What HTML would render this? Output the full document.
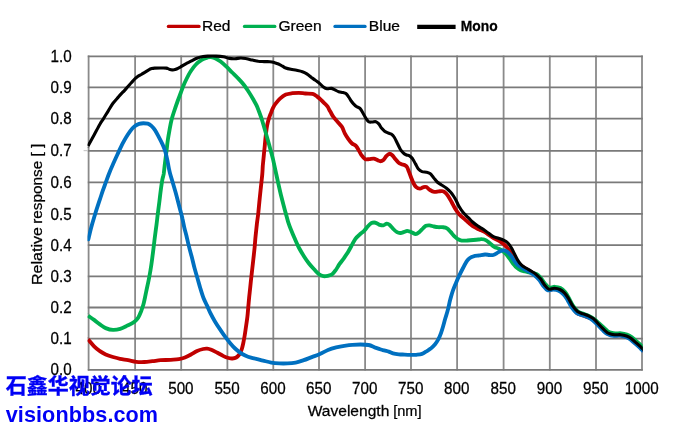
<!DOCTYPE html>
<html><head><meta charset="utf-8"><title>Relative response</title>
<style>
html,body{margin:0;padding:0;background:#fff;}
body{width:690px;height:428px;overflow:hidden;position:relative;font-family:"Liberation Sans","Noto Sans CJK SC",sans-serif;}
#root{position:absolute;left:0;top:0;width:690px;height:428px;overflow:hidden;background:#fff;will-change:transform;filter:opacity(0.999);}
svg{position:absolute;left:0;top:0;display:block}
svg text{font-family:"Liberation Sans",sans-serif;fill:#000;stroke:#000;stroke-width:0.25px}
.wm{position:absolute;left:5.7px;color:#0000f5;font-weight:bold;white-space:nowrap;line-height:1;}
#wm1{top:374.1px;font-size:21px;font-family:"Noto Sans CJK SC","WenQuanYi Zen Hei",sans-serif;font-weight:700;-webkit-text-stroke:0.35px #0000f5}
#wm2{top:404.3px;font-size:21.6px;font-family:"Liberation Sans",sans-serif;transform:scaleX(1.0);transform-origin:0 0;letter-spacing:0.1px}
</style></head><body><div id="root">
<svg width="690" height="428" viewBox="0 0 690 428">
<rect width="690" height="428" fill="#fff"/>
<path d="M88.60 55.60V370.60M135.10 55.60V370.60M181.20 55.60V370.60M227.40 55.60V370.60M273.30 55.60V370.60M319.00 55.60V370.60M365.10 55.60V370.60M411.00 55.60V370.60M457.10 55.60V370.60M503.60 55.60V370.60M549.80 55.60V370.60M596.00 55.60V370.60M642.00 55.60V370.60" fill="none" stroke="#8a8a8a" stroke-width="1.8"/>
<path d="M87.80 56.40H642.80M87.80 87.30H642.80M87.80 118.60H642.80M87.80 150.80H642.80M87.80 182.30H642.80M87.80 213.90H642.80M87.80 245.20H642.80M87.80 276.40H642.80M87.80 307.50H642.80M87.80 338.70H642.80M87.80 369.80H642.80" fill="none" stroke="#7a7a7a" stroke-width="1.8"/>
<path d="M83.6 150.6H87.6" stroke="#c8c8c8" stroke-width="1.2" fill="none"/>
<g><text transform="translate(88.30 394.00) scale(0.975 1)" font-size="15.60" text-anchor="middle">400</text><text transform="translate(134.80 394.00) scale(0.975 1)" font-size="15.60" text-anchor="middle">450</text><text transform="translate(180.90 394.00) scale(0.975 1)" font-size="15.60" text-anchor="middle">500</text><text transform="translate(227.10 394.00) scale(0.975 1)" font-size="15.60" text-anchor="middle">550</text><text transform="translate(273.00 394.00) scale(0.975 1)" font-size="15.60" text-anchor="middle">600</text><text transform="translate(318.70 394.00) scale(0.975 1)" font-size="15.60" text-anchor="middle">650</text><text transform="translate(364.80 394.00) scale(0.975 1)" font-size="15.60" text-anchor="middle">700</text><text transform="translate(410.70 394.00) scale(0.975 1)" font-size="15.60" text-anchor="middle">750</text><text transform="translate(456.80 394.00) scale(0.975 1)" font-size="15.60" text-anchor="middle">800</text><text transform="translate(503.30 394.00) scale(0.975 1)" font-size="15.60" text-anchor="middle">850</text><text transform="translate(549.50 394.00) scale(0.975 1)" font-size="15.60" text-anchor="middle">900</text><text transform="translate(595.70 394.00) scale(0.975 1)" font-size="15.60" text-anchor="middle">950</text><text transform="translate(641.70 394.00) scale(0.975 1)" font-size="15.60" text-anchor="middle">1000</text><text transform="translate(71.60 62.00) scale(0.975 1)" font-size="15.60" text-anchor="end">1.0</text><text transform="translate(71.60 92.90) scale(0.975 1)" font-size="15.60" text-anchor="end">0.9</text><text transform="translate(71.60 124.20) scale(0.975 1)" font-size="15.60" text-anchor="end">0.8</text><text transform="translate(71.60 156.40) scale(0.975 1)" font-size="15.60" text-anchor="end">0.7</text><text transform="translate(71.60 187.90) scale(0.975 1)" font-size="15.60" text-anchor="end">0.6</text><text transform="translate(71.60 219.50) scale(0.975 1)" font-size="15.60" text-anchor="end">0.5</text><text transform="translate(71.60 250.80) scale(0.975 1)" font-size="15.60" text-anchor="end">0.4</text><text transform="translate(71.60 282.00) scale(0.975 1)" font-size="15.60" text-anchor="end">0.3</text><text transform="translate(71.60 313.10) scale(0.975 1)" font-size="15.60" text-anchor="end">0.2</text><text transform="translate(71.60 344.30) scale(0.975 1)" font-size="15.60" text-anchor="end">0.1</text><text transform="translate(71.60 375.40) scale(0.975 1)" font-size="15.60" text-anchor="end">0.0</text></g>
<g><text transform="translate(307.70 415.60) scale(1.032 1)" font-size="15.10" text-anchor="start">Wavelength</text><text transform="translate(393.20 415.60) scale(0.967 1)" font-size="15.10" text-anchor="start">[nm]</text><text transform="translate(42.30 285.00) rotate(-90) scale(1.064 1)" font-size="15.10" text-anchor="start">Relative</text><text transform="translate(42.30 223.85) rotate(-90) scale(1.018 1)" font-size="15.10" text-anchor="start">response [ ]</text></g>
<clipPath id="cp"><rect x="87.5" y="40" width="555.3" height="340"/></clipPath>
<g fill="none" stroke-linejoin="round" stroke-linecap="butt" clip-path="url(#cp)">
<path d="M88.0 339.4C88.1 339.5 87.6 338.8 88.6 340.0C89.6 341.2 92.2 344.4 94.1 346.3C96.0 348.2 98.0 349.8 99.9 351.1C101.8 352.5 103.5 353.4 105.7 354.4C107.9 355.4 110.6 356.3 113.0 357.0C115.4 357.7 117.5 358.3 120.0 358.8C122.5 359.3 125.4 359.7 128.1 360.2C130.8 360.7 133.5 361.5 136.2 361.8C138.9 362.1 141.6 362.1 144.3 362.0C147.0 361.9 149.8 361.5 152.5 361.2C155.2 360.9 157.6 360.4 160.6 360.2C163.6 360.0 167.7 360.0 170.7 359.8C173.7 359.6 176.4 359.6 178.8 359.2C181.2 358.8 182.9 358.3 184.9 357.5C186.9 356.7 189.0 355.6 191.0 354.5C193.0 353.4 195.1 351.9 197.1 351.0C199.1 350.1 201.5 349.4 203.2 349.0C204.9 348.6 205.8 348.6 207.2 348.7C208.5 348.8 209.6 349.1 211.3 349.8C213.0 350.5 215.4 351.8 217.4 352.8C219.4 353.9 221.7 355.2 223.5 356.1C225.3 357.0 227.0 357.6 228.5 358.0C230.0 358.4 231.1 358.6 232.4 358.5C233.7 358.4 235.0 358.2 236.2 357.5C237.4 356.8 238.5 355.6 239.4 354.3C240.3 353.1 240.9 351.8 241.5 350.0C242.1 348.2 242.7 345.8 243.2 343.5C243.7 341.2 244.1 338.9 244.6 336.0C245.1 333.1 245.6 329.2 246.1 326.0C246.6 322.8 247.0 320.0 247.4 316.8C247.8 313.6 248.0 309.8 248.3 306.7C248.6 303.6 248.8 301.3 249.1 298.0C249.4 294.7 249.9 290.8 250.3 286.7C250.7 282.6 251.2 278.0 251.7 273.7C252.2 269.4 252.7 265.0 253.2 260.6C253.7 256.2 254.2 251.7 254.6 247.6C255.0 243.5 255.2 239.8 255.6 236.0C256.0 232.2 256.4 228.5 256.8 224.7C257.2 220.9 257.9 217.0 258.3 213.1C258.7 209.2 259.0 205.4 259.4 201.5C259.8 197.6 260.2 193.5 260.6 189.9C261.0 186.3 261.4 182.5 261.7 179.8C262.0 177.2 262.1 176.4 262.3 174.0C262.5 171.6 262.6 168.7 262.8 165.6C263.1 162.5 263.5 158.9 263.8 155.5C264.1 152.1 264.5 148.7 264.8 145.3C265.1 141.9 265.4 138.6 265.8 135.2C266.2 131.8 266.6 127.9 267.2 125.0C267.8 122.1 268.4 119.9 269.1 117.8C269.8 115.7 270.6 114.0 271.2 112.3C271.8 110.6 272.2 109.3 273.0 107.8C273.8 106.3 274.6 104.9 275.8 103.4C277.0 101.9 278.3 100.1 280.0 98.6C281.7 97.1 283.8 95.5 285.8 94.6C287.9 93.7 290.1 93.5 292.3 93.2C294.5 92.9 296.6 92.8 298.8 92.8C301.0 92.8 303.0 93.3 305.3 93.5C307.6 93.7 310.7 93.4 312.6 93.9C314.5 94.4 315.5 95.4 316.9 96.4C318.3 97.4 319.8 98.7 321.0 99.8C322.2 100.9 322.9 101.8 324.0 102.9C325.1 104.0 326.3 104.8 327.4 106.3C328.4 107.8 329.3 109.9 330.3 111.6C331.3 113.3 332.0 115.0 333.2 116.7C334.4 118.4 336.1 120.0 337.5 121.7C338.9 123.4 340.7 124.9 341.9 126.8C343.1 128.7 343.7 131.2 344.8 133.3C345.9 135.4 347.2 137.4 348.4 139.1C349.6 140.8 350.8 142.4 352.0 143.5C353.2 144.6 354.6 144.6 355.7 145.7C356.8 146.8 357.7 148.4 358.6 150.0C359.6 151.6 360.3 153.6 361.4 155.1C362.5 156.6 363.8 158.4 365.1 159.1C366.4 159.8 367.9 159.2 369.4 159.1C370.8 159.0 372.5 158.5 373.8 158.7C375.1 158.9 376.3 159.7 377.4 160.1C378.5 160.5 379.3 161.2 380.3 161.2C381.3 161.2 382.4 160.8 383.4 160.0C384.4 159.2 385.3 157.2 386.3 156.2C387.3 155.2 388.2 154.0 389.2 153.8C390.2 153.7 391.3 154.4 392.3 155.3C393.3 156.2 394.3 157.8 395.3 159.0C396.3 160.2 397.5 161.7 398.5 162.6C399.5 163.5 400.5 163.8 401.5 164.2C402.5 164.6 403.6 164.5 404.5 165.0C405.4 165.5 406.2 165.8 407.0 167.0C407.8 168.2 408.3 170.1 409.0 171.9C409.7 173.7 410.5 175.9 411.2 177.7C411.9 179.5 412.5 181.2 413.3 182.8C414.1 184.4 415.1 186.1 416.2 187.1C417.3 188.1 418.7 188.6 419.9 188.6C421.1 188.6 422.4 187.3 423.5 187.1C424.6 186.8 425.3 186.6 426.4 187.1C427.5 187.6 428.7 189.2 430.0 190.0C431.3 190.8 432.9 191.7 434.3 191.9C435.8 192.1 437.4 191.5 438.7 191.4C440.0 191.3 441.3 191.0 442.3 191.2C443.3 191.3 443.9 191.5 444.8 192.3C445.8 193.1 446.9 194.3 448.0 195.9C449.1 197.5 450.4 199.9 451.6 202.0C452.8 204.1 453.9 206.6 455.2 208.7C456.5 210.8 458.0 213.0 459.6 214.7C461.2 216.4 463.0 217.7 464.6 219.1C466.2 220.5 467.4 221.7 469.0 223.0C470.6 224.3 472.4 225.9 474.1 227.0C475.8 228.1 477.5 228.6 479.1 229.4C480.8 230.2 482.4 230.7 484.0 231.6C485.6 232.5 487.4 233.9 489.0 235.0C490.6 236.1 492.2 237.4 493.9 238.3C495.6 239.2 497.4 239.8 499.0 240.7C500.6 241.6 502.0 242.7 503.3 243.8C504.6 244.9 505.9 246.3 507.0 247.5C508.1 248.7 508.8 249.6 509.9 251.1C511.0 252.6 512.3 254.7 513.5 256.5C514.7 258.3 515.9 260.4 517.2 262.0C518.5 263.6 519.8 264.6 521.3 265.8C522.8 267.0 524.4 267.9 526.0 268.9C527.6 269.9 529.1 270.6 530.7 271.6C532.3 272.6 534.2 273.6 535.7 274.9C537.2 276.2 538.6 277.5 540.0 279.2C541.4 280.9 542.5 283.2 543.9 285.0C545.3 286.8 546.8 289.1 548.5 289.7C550.2 290.4 552.2 288.8 554.1 288.9C556.0 289.0 557.9 289.3 559.6 290.1C561.3 290.9 562.9 292.2 564.4 293.7C565.9 295.2 567.1 297.2 568.4 299.3C569.7 301.4 571.0 304.2 572.4 306.5C573.8 308.8 575.0 311.4 576.6 312.8C578.2 314.2 580.4 314.5 582.2 315.2C584.1 315.9 585.8 316.4 587.7 317.2C589.6 318.0 592.1 318.6 593.8 319.8C595.6 321.0 596.7 323.0 598.2 324.6C599.7 326.2 601.2 327.9 602.7 329.3C604.2 330.8 605.7 332.4 607.1 333.3C608.5 334.2 609.9 334.6 611.2 334.9C612.5 335.3 613.6 335.3 615.1 335.4C616.6 335.5 618.6 335.1 620.5 335.3C622.4 335.5 624.5 336.0 626.2 336.6C627.9 337.2 629.4 337.9 630.9 339.0C632.4 340.1 634.0 341.8 635.4 343.0C636.8 344.2 638.3 345.5 639.4 346.5C640.5 347.5 641.2 348.3 641.9 349.1C642.7 349.9 643.6 350.8 643.9 351.2" stroke="#c00000" stroke-width="3.85"/>
<path d="M88.0 315.7C88.1 315.8 87.6 315.4 88.6 316.1C89.6 316.8 92.2 318.5 94.1 319.9C96.0 321.3 98.0 323.0 99.9 324.4C101.8 325.8 103.5 327.2 105.7 328.1C107.9 329.0 110.6 329.8 113.0 329.9C115.4 330.0 117.8 329.6 120.2 328.9C122.6 328.2 125.2 326.7 127.5 325.6C129.8 324.5 132.2 323.5 134.0 322.1C135.8 320.8 137.1 319.4 138.3 317.5C139.5 315.6 140.3 313.2 141.2 311.0C142.0 308.8 142.8 306.7 143.4 304.5C144.0 302.3 144.4 300.2 144.9 298.0C145.4 295.8 145.7 294.0 146.3 291.1C146.9 288.2 147.8 284.3 148.5 280.9C149.2 277.5 149.8 274.4 150.4 270.8C151.0 267.2 151.6 263.1 152.1 259.2C152.6 255.3 153.1 251.5 153.6 247.6C154.1 243.7 154.5 239.8 155.0 236.0C155.5 232.2 156.0 228.5 156.5 224.7C157.0 220.9 157.4 217.0 157.9 213.1C158.4 209.2 158.9 205.4 159.4 201.5C159.9 197.6 160.3 193.5 160.8 189.9C161.3 186.3 161.8 182.5 162.3 179.8C162.8 177.2 163.2 176.8 163.7 174.0C164.1 171.2 164.5 166.5 165.0 162.7C165.5 158.9 166.0 155.0 166.5 151.1C167.0 147.2 167.3 143.4 167.9 139.5C168.5 135.6 169.3 131.3 169.9 127.9C170.5 124.5 171.0 121.9 171.7 119.2C172.4 116.5 172.9 115.0 173.9 112.0C174.9 109.0 176.4 104.6 177.5 101.5C178.6 98.4 179.5 96.2 180.5 93.5C181.5 90.8 182.5 87.9 183.5 85.5C184.5 83.1 185.3 81.4 186.5 79.0C187.7 76.6 189.3 73.4 190.9 71.0C192.5 68.6 194.1 66.3 195.9 64.5C197.7 62.6 199.8 61.1 201.7 59.9C203.6 58.7 205.9 58.0 207.5 57.5C209.1 57.0 209.9 57.1 211.2 57.2C212.5 57.4 213.9 57.7 215.5 58.4C217.1 59.1 218.8 60.2 220.6 61.6C222.4 63.0 224.5 64.9 226.4 66.7C228.3 68.5 230.3 70.6 232.2 72.5C234.1 74.4 236.1 76.2 238.0 78.3C239.9 80.3 242.0 82.5 243.8 84.8C245.6 87.1 247.2 89.6 248.8 92.0C250.4 94.4 251.9 97.0 253.2 99.3C254.5 101.6 255.8 103.7 256.8 105.8C257.8 107.9 258.3 109.6 259.2 112.0C260.1 114.4 261.1 117.0 262.1 120.2C263.1 123.5 264.2 127.5 265.4 131.5C266.5 135.5 267.8 139.8 269.0 144.3C270.2 148.8 271.7 153.7 272.8 158.4C273.9 163.1 275.0 168.4 275.9 172.5C276.8 176.6 277.4 179.3 278.1 182.7C278.9 186.1 279.6 189.4 280.4 192.8C281.2 196.2 282.1 199.6 283.0 203.0C283.9 206.4 284.8 210.0 285.7 213.1C286.6 216.2 287.2 219.1 288.1 221.8C289.0 224.5 289.8 226.8 290.9 229.5C292.0 232.2 293.2 235.1 294.5 238.1C295.8 241.1 297.2 244.5 298.8 247.5C300.4 250.5 302.2 253.5 303.9 256.2C305.6 258.9 307.3 261.3 309.0 263.5C310.7 265.7 312.4 267.5 314.1 269.3C315.8 271.1 317.5 273.2 319.1 274.3C320.7 275.4 322.1 275.9 323.5 276.2C324.9 276.4 326.4 276.1 327.8 275.8C329.2 275.5 330.9 275.3 332.2 274.3C333.5 273.3 334.6 271.7 335.8 270.0C337.0 268.3 338.1 266.1 339.4 264.2C340.7 262.3 342.4 260.4 343.8 258.4C345.2 256.3 346.8 254.1 348.1 251.9C349.4 249.7 350.5 247.6 351.7 245.4C352.9 243.2 354.1 240.6 355.4 238.8C356.7 237.0 358.2 235.8 359.7 234.5C361.1 233.2 362.8 232.2 364.1 230.9C365.4 229.6 366.5 227.8 367.7 226.5C368.9 225.2 370.2 223.9 371.3 223.2C372.4 222.5 373.2 222.5 374.2 222.5C375.2 222.5 376.2 223.0 377.1 223.4C378.0 223.8 378.5 224.5 379.5 224.8C380.5 225.1 382.0 225.6 383.2 225.4C384.4 225.2 385.7 223.7 386.8 223.6C387.9 223.5 388.6 224.0 389.7 224.9C390.8 225.8 392.1 227.8 393.3 229.0C394.5 230.2 395.8 231.5 397.0 232.2C398.2 232.9 399.4 233.1 400.6 233.0C401.8 232.9 403.1 232.2 404.2 231.9C405.3 231.6 406.0 230.9 407.1 230.9C408.2 230.9 409.2 231.4 410.7 231.9C412.1 232.4 414.4 234.1 415.8 234.1C417.2 234.1 418.2 232.9 419.4 231.9C420.6 230.9 421.9 229.3 423.0 228.3C424.1 227.3 424.8 226.3 425.9 225.8C427.0 225.3 428.3 225.3 429.6 225.4C430.9 225.5 432.4 226.2 433.9 226.5C435.3 226.8 436.9 227.1 438.3 227.2C439.8 227.3 441.2 227.0 442.6 227.2C444.1 227.4 445.7 227.5 447.0 228.3C448.3 229.1 449.4 230.6 450.6 231.9C451.8 233.2 453.0 235.0 454.2 236.2C455.4 237.4 456.6 238.4 457.8 239.1C459.1 239.8 460.1 240.4 461.7 240.6C463.3 240.8 465.6 240.6 467.5 240.5C469.4 240.4 471.5 240.2 473.3 240.0C475.1 239.8 476.9 239.6 478.4 239.5C479.8 239.4 480.7 239.0 482.0 239.2C483.3 239.3 484.9 239.7 486.2 240.4C487.5 241.1 488.6 242.2 489.9 243.3C491.2 244.4 492.7 245.9 494.2 246.8C495.7 247.7 497.4 248.0 498.9 248.7C500.3 249.4 501.7 250.2 502.9 251.1C504.1 252.0 505.0 252.9 506.2 254.2C507.4 255.5 508.6 257.3 509.8 258.9C511.0 260.5 512.3 262.6 513.4 264.0C514.5 265.4 515.4 266.6 516.6 267.6C517.8 268.6 519.2 269.6 520.6 270.2C522.0 270.8 523.6 271.0 525.0 271.4C526.4 271.8 527.1 271.9 529.0 272.3C530.9 272.7 534.5 273.1 536.4 274.0C538.3 274.9 539.3 276.3 540.7 277.8C542.1 279.3 543.2 281.5 544.6 283.1C546.0 284.8 547.5 287.0 549.2 287.6C550.9 288.2 552.9 286.7 554.8 286.8C556.6 286.9 558.6 287.1 560.3 288.0C562.0 288.9 563.6 290.4 565.1 292.1C566.6 293.8 567.8 296.2 569.1 298.5C570.4 300.8 571.6 303.7 573.1 305.9C574.6 308.1 576.2 310.2 577.9 311.5C579.6 312.8 581.6 313.2 583.5 313.9C585.4 314.6 587.2 315.0 589.0 315.9C590.8 316.8 592.9 318.0 594.5 319.2C596.1 320.4 597.4 321.9 598.9 323.2C600.4 324.6 601.9 326.0 603.4 327.3C604.9 328.6 606.4 330.4 607.8 331.3C609.2 332.2 610.6 332.6 611.9 332.9C613.2 333.3 614.2 333.3 615.8 333.4C617.3 333.5 619.3 333.1 621.2 333.3C623.0 333.5 625.2 334.0 626.9 334.6C628.6 335.2 630.1 335.9 631.6 337.0C633.1 338.1 634.7 339.8 636.1 341.0C637.5 342.2 639.0 343.5 640.1 344.5C641.2 345.5 641.9 346.3 642.6 347.1C643.4 347.9 644.3 348.8 644.6 349.2" stroke="#00b050" stroke-width="3.85"/>
<path d="M88.3 239.3C88.4 239.1 88.1 240.1 88.6 238.2C89.1 236.3 90.3 231.0 91.2 227.6C92.1 224.2 93.1 220.8 94.1 217.5C95.1 214.2 96.0 211.1 97.0 208.1C98.0 205.1 98.9 202.3 99.9 199.4C100.9 196.5 101.8 193.5 102.8 190.7C103.8 187.9 104.7 185.4 105.7 182.7C106.7 180.0 107.4 177.8 108.6 174.7C109.8 171.6 111.5 167.5 113.0 164.2C114.5 160.9 115.8 158.0 117.3 154.8C118.8 151.7 120.2 148.2 121.7 145.3C123.2 142.4 124.5 139.8 126.0 137.4C127.5 135.0 129.0 132.7 130.4 130.8C131.8 128.9 133.2 127.4 134.7 126.2C136.1 125.0 137.6 124.4 139.1 123.9C140.6 123.4 141.9 123.2 143.4 123.2C144.9 123.2 146.5 123.2 147.8 123.6C149.1 124.0 150.2 124.7 151.4 125.8C152.6 126.9 153.8 128.3 155.0 130.1C156.2 131.9 157.4 134.3 158.6 136.6C159.8 138.9 161.2 141.5 162.3 143.9C163.4 146.3 164.4 148.4 165.2 151.1C166.0 153.8 166.7 157.0 167.3 159.8C167.9 162.6 168.3 165.4 168.8 167.8C169.3 170.2 169.5 171.5 170.2 174.0C170.9 176.5 171.9 179.7 172.8 182.7C173.7 185.7 174.6 188.8 175.5 192.1C176.4 195.4 177.4 199.2 178.2 202.3C179.0 205.5 179.8 208.3 180.5 211.0C181.2 213.7 181.8 215.7 182.4 218.5C183.1 221.3 183.7 225.1 184.4 228.0C185.1 230.9 185.8 233.1 186.5 236.0C187.2 238.9 187.8 242.0 188.7 245.4C189.5 248.8 190.6 252.6 191.6 256.3C192.6 260.1 193.5 264.3 194.5 267.9C195.5 271.5 196.4 274.6 197.4 278.0C198.4 281.4 199.3 284.9 200.3 288.2C201.3 291.5 202.4 295.2 203.5 298.0C204.6 300.8 205.7 302.7 206.8 305.2C208.0 307.7 209.1 310.5 210.4 313.2C211.7 315.9 213.2 318.5 214.8 321.2C216.4 323.9 218.2 326.7 219.9 329.2C221.6 331.7 223.2 334.1 224.9 336.4C226.6 338.7 228.3 340.9 230.0 342.9C231.7 344.9 233.4 346.9 235.1 348.5C236.8 350.1 238.4 351.4 240.1 352.6C241.8 353.8 243.4 354.6 245.2 355.5C247.0 356.4 248.8 357.1 251.0 357.7C253.2 358.3 256.3 358.9 258.3 359.4C260.3 359.9 261.0 360.1 263.1 360.6C265.2 361.1 268.5 362.1 271.2 362.6C273.9 363.1 276.6 363.3 279.3 363.4C282.0 363.5 284.8 363.5 287.5 363.4C290.2 363.3 292.9 363.1 295.6 362.6C298.3 362.1 301.0 361.1 303.7 360.2C306.4 359.3 309.1 358.1 311.8 357.1C314.5 356.1 317.2 355.3 319.9 354.1C322.6 352.9 325.3 351.1 328.0 350.0C330.7 348.9 333.5 348.1 336.2 347.4C338.9 346.7 341.6 346.2 344.3 345.8C347.0 345.4 349.7 345.0 352.4 344.8C355.1 344.6 357.8 344.5 360.5 344.5C363.2 344.5 366.2 344.5 368.6 345.0C371.0 345.5 372.7 346.6 374.7 347.4C376.7 348.1 379.2 349.0 380.8 349.5C382.4 350.0 383.0 350.0 384.3 350.4C385.6 350.8 387.2 351.1 388.7 351.6C390.1 352.1 391.3 352.9 393.0 353.3C394.7 353.8 396.9 354.1 398.8 354.3C400.7 354.5 402.7 354.5 404.6 354.6C406.5 354.7 408.5 354.8 410.4 354.8C412.3 354.8 414.3 355.0 416.2 354.8C418.1 354.6 420.3 354.5 422.0 353.9C423.7 353.3 424.9 352.3 426.4 351.4C427.8 350.5 429.2 349.8 430.7 348.6C432.1 347.4 433.9 345.6 435.1 344.2C436.3 342.8 437.0 341.7 438.0 339.9C439.0 338.1 440.1 335.5 440.9 333.3C441.7 331.1 442.3 329.2 443.0 326.8C443.7 324.4 444.5 321.3 445.2 318.8C445.9 316.3 446.8 313.8 447.4 311.6C448.0 309.4 448.4 307.6 448.9 305.5C449.4 303.4 449.6 301.8 450.3 299.3C451.0 296.8 451.9 293.5 452.9 290.7C453.9 287.9 455.0 285.4 456.1 282.7C457.2 280.0 458.5 277.2 459.7 274.7C460.9 272.2 462.1 269.8 463.3 267.5C464.5 265.2 465.9 262.5 467.0 260.9C468.1 259.3 468.8 258.8 469.9 258.0C471.0 257.2 471.9 256.7 473.5 256.3C475.1 255.9 477.4 255.7 479.3 255.4C481.2 255.1 483.4 254.6 485.1 254.5C486.8 254.4 488.0 254.9 489.4 255.0C490.8 255.1 492.1 255.3 493.3 255.0C494.6 254.7 495.7 253.9 496.9 253.2C498.1 252.5 499.4 251.4 500.6 250.9C501.8 250.4 503.0 250.2 504.2 250.4C505.4 250.6 506.7 251.3 507.8 252.2C508.9 253.1 510.0 254.3 511.0 255.6C512.0 256.9 512.8 258.5 513.8 260.0C514.8 261.5 516.1 263.3 517.2 264.5C518.3 265.7 519.4 266.2 520.6 267.0C521.8 267.8 522.8 268.4 524.2 269.2C525.6 270.0 528.1 271.1 529.0 271.6C529.9 272.1 528.8 271.6 529.8 272.2C530.8 272.8 533.2 274.2 534.8 275.5C536.3 276.8 537.7 278.1 539.1 279.8C540.5 281.5 541.6 283.8 543.0 285.6C544.4 287.3 545.9 289.6 547.6 290.3C549.3 291.0 551.3 289.4 553.2 289.5C555.0 289.6 557.0 289.9 558.7 290.7C560.4 291.5 562.0 292.8 563.5 294.3C565.0 295.8 566.2 297.8 567.5 299.9C568.8 302.0 570.0 305.0 571.5 307.1C573.0 309.2 574.6 311.4 576.3 312.7C578.0 314.0 580.0 314.4 581.9 315.1C583.8 315.8 585.6 316.2 587.4 317.1C589.2 318.0 591.2 319.1 592.9 320.4C594.6 321.7 596.2 323.4 597.7 325.0C599.2 326.6 600.7 328.2 602.2 329.7C603.7 331.1 605.2 332.8 606.6 333.7C608.0 334.6 609.4 334.9 610.7 335.3C612.0 335.7 613.1 335.7 614.6 335.8C616.1 335.9 618.1 335.5 620.0 335.7C621.9 335.9 624.0 336.4 625.7 337.0C627.4 337.6 628.9 338.3 630.4 339.4C631.9 340.5 633.5 342.1 634.9 343.4C636.3 344.6 637.8 345.9 638.9 346.9C640.0 347.9 640.7 348.7 641.4 349.5C642.2 350.3 643.1 351.2 643.4 351.6" stroke="#0070c0" stroke-width="3.85"/>
<path d="M88.0 146.0C88.1 145.8 87.6 146.8 88.6 145.0C89.6 143.2 92.2 138.5 94.1 135.0C96.0 131.5 98.3 126.9 99.9 124.2C101.5 121.5 102.1 120.8 103.5 118.6C104.9 116.4 106.7 113.3 108.3 110.8C109.9 108.2 111.2 105.7 113.0 103.3C114.8 100.9 117.3 98.3 118.8 96.5C120.3 94.7 121.3 93.7 122.2 92.7C123.1 91.7 123.4 91.7 124.4 90.6C125.4 89.5 127.2 87.3 128.4 86.0C129.6 84.7 130.2 84.0 131.3 82.8C132.4 81.6 134.0 79.7 135.1 78.7C136.2 77.7 136.7 77.3 137.7 76.6C138.7 75.9 140.1 75.2 141.3 74.5C142.5 73.8 143.8 72.9 145.1 72.1C146.3 71.3 147.7 70.4 148.8 69.8C149.9 69.2 150.7 68.9 151.7 68.6C152.7 68.3 153.1 68.2 154.6 68.1C156.1 68.0 158.6 68.0 160.5 68.0C162.4 68.0 164.9 67.9 166.3 68.1C167.8 68.3 168.2 68.9 169.2 69.2C170.2 69.5 171.2 69.8 172.2 69.9C173.2 70.0 174.1 69.9 175.1 69.6C176.1 69.3 177.1 68.7 178.0 68.3C178.9 67.9 179.2 67.8 180.5 67.0C181.8 66.2 184.0 64.8 185.8 63.8C187.7 62.8 189.7 61.9 191.6 60.9C193.5 59.9 195.5 58.7 197.4 58.0C199.3 57.3 201.3 56.8 203.2 56.5C205.1 56.2 206.8 56.2 209.0 56.1C211.2 56.0 213.8 56.0 216.2 56.1C218.6 56.2 221.3 56.4 223.5 56.8C225.7 57.2 227.4 58.1 229.3 58.4C231.2 58.7 233.2 58.8 235.1 58.7C237.0 58.6 239.0 58.0 240.9 58.0C242.8 58.0 244.8 58.4 246.7 58.7C248.6 59.1 250.6 59.7 252.5 60.1C254.4 60.5 256.4 61.0 258.3 61.3C260.2 61.5 262.2 61.5 264.1 61.6C266.0 61.7 268.2 61.5 269.9 61.7C271.6 61.9 272.8 62.2 274.2 62.6C275.6 63.0 277.1 63.4 278.5 64.0C279.9 64.6 281.4 65.6 282.5 66.2C283.6 66.8 283.6 67.2 285.0 67.7C286.4 68.2 288.9 68.9 290.8 69.3C292.7 69.7 294.7 69.9 296.6 70.3C298.5 70.7 300.7 71.1 302.4 71.7C304.1 72.3 305.4 73.0 306.8 73.9C308.2 74.8 309.7 76.1 311.1 77.2C312.6 78.3 314.1 79.3 315.5 80.4C316.9 81.5 318.5 82.5 319.8 83.6C321.1 84.7 322.2 86.1 323.4 87.0C324.6 87.9 325.8 88.6 327.1 88.8C328.4 89.0 330.1 88.2 331.4 88.4C332.7 88.6 333.8 89.4 335.0 89.9C336.2 90.5 337.4 91.3 338.7 91.7C340.0 92.1 341.8 92.2 343.0 92.5C344.2 92.8 344.9 92.7 345.9 93.5C346.9 94.3 347.9 95.8 348.8 97.1C349.7 98.3 350.4 99.9 351.2 101.0C352.0 102.1 352.6 102.9 353.5 103.8C354.4 104.7 355.3 105.7 356.4 106.5C357.5 107.3 358.9 107.3 360.0 108.4C361.1 109.5 361.9 111.4 362.9 113.0C363.9 114.6 364.8 116.6 365.8 118.1C366.8 119.5 367.6 121.0 368.7 121.7C369.8 122.4 371.1 122.0 372.3 122.0C373.5 122.0 374.8 121.4 375.9 121.7C377.0 122.0 377.8 122.8 378.8 123.9C379.8 125.0 380.7 127.1 381.7 128.3C382.7 129.5 383.5 130.4 384.6 131.2C385.7 132.0 387.2 132.5 388.3 133.0C389.4 133.5 390.2 133.4 391.2 134.1C392.2 134.8 393.1 135.5 394.1 137.0C395.1 138.5 396.3 141.2 397.3 143.2C398.3 145.2 399.3 147.5 400.3 149.2C401.3 150.9 402.5 152.2 403.5 153.2C404.5 154.2 405.5 154.6 406.5 155.0C407.5 155.4 408.5 155.2 409.5 155.8C410.5 156.4 411.6 157.5 412.6 158.8C413.6 160.2 414.5 162.2 415.5 163.9C416.5 165.6 417.3 167.7 418.4 169.0C419.5 170.3 420.7 171.1 422.0 171.6C423.3 172.1 425.1 171.9 426.4 172.2C427.7 172.5 428.8 172.7 430.0 173.6C431.2 174.5 432.4 176.3 433.6 177.7C434.8 179.1 435.9 180.8 437.2 182.0C438.5 183.2 440.1 184.0 441.6 185.0C443.2 186.0 445.0 187.0 446.5 188.2C448.0 189.4 449.3 190.7 450.5 192.0C451.7 193.3 452.6 194.6 453.5 196.0C454.4 197.4 455.1 198.5 456.0 200.2C456.9 201.9 457.6 203.9 458.8 206.0C460.0 208.1 461.6 210.6 463.2 212.5C464.8 214.4 466.7 216.0 468.3 217.6C469.9 219.2 471.1 220.6 472.6 222.0C474.1 223.4 475.7 224.6 477.5 225.8C479.3 227.0 481.3 228.1 483.2 229.3C485.1 230.6 487.0 232.1 488.7 233.3C490.4 234.5 491.8 235.8 493.4 236.6C495.0 237.4 496.8 237.7 498.5 238.3C500.2 238.9 501.9 239.3 503.5 240.1C505.1 240.9 506.6 241.7 507.9 243.0C509.2 244.3 510.4 246.1 511.5 248.0C512.6 249.9 513.7 252.4 514.8 254.5C515.9 256.6 516.9 258.8 518.0 260.6C519.1 262.4 520.2 263.9 521.6 265.2C523.0 266.5 524.7 267.3 526.3 268.3C527.9 269.3 529.4 270.0 531.0 271.0C532.6 272.0 534.5 273.0 536.0 274.3C537.5 275.6 538.9 276.9 540.3 278.6C541.7 280.3 542.8 282.6 544.2 284.4C545.6 286.1 547.1 288.5 548.8 289.1C550.5 289.8 552.5 288.2 554.4 288.3C556.2 288.4 558.2 288.7 559.9 289.5C561.6 290.3 563.2 291.6 564.7 293.1C566.2 294.6 567.4 296.6 568.7 298.7C570.0 300.8 571.2 303.8 572.7 305.9C574.2 308.0 575.8 310.2 577.5 311.5C579.2 312.8 581.2 313.2 583.1 313.9C585.0 314.6 586.8 315.0 588.6 315.9C590.4 316.8 592.5 317.8 594.1 319.2C595.8 320.6 597.0 322.4 598.5 324.0C600.0 325.6 601.5 327.2 603.0 328.7C604.5 330.1 606.0 331.8 607.4 332.7C608.8 333.6 610.2 333.9 611.5 334.3C612.8 334.7 613.9 334.7 615.4 334.8C616.9 334.9 618.9 334.5 620.8 334.7C622.6 334.9 624.8 335.4 626.5 336.0C628.2 336.6 629.7 337.3 631.2 338.4C632.7 339.5 634.3 341.1 635.7 342.4C637.1 343.6 638.6 344.9 639.7 345.9C640.8 346.9 641.5 347.7 642.2 348.5C643.0 349.3 643.9 350.2 644.2 350.6" stroke="#000" stroke-width="3.1"/>
</g>
<g stroke-linecap="round" fill="none">
<path d="M168.4 26.4H199" stroke="#c00000" stroke-width="3.3"/>
<path d="M244.5 26.4H274.8" stroke="#00b050" stroke-width="3.3"/>
<path d="M335 26.4H365" stroke="#0070c0" stroke-width="3.3"/>
<path d="M417.2 26.8H455.6" stroke="#000" stroke-width="4.2" stroke-linecap="butt"/>
</g>
<g><text transform="translate(201.90 31.00) scale(1.045 1)" font-size="14.90" text-anchor="start">Red</text><text transform="translate(278.40 31.00) scale(1.045 1)" font-size="14.90" text-anchor="start">Green</text><text transform="translate(368.80 31.00) scale(1.045 1)" font-size="14.90" text-anchor="start">Blue</text><text transform="translate(460.80 30.90) scale(0.975 1)" font-size="14.20" text-anchor="start" font-weight="bold">Mono</text></g>
</svg>
<div class="wm" id="wm1">石鑫华视觉论坛</div>
<div class="wm" id="wm2">visionbbs.com</div>
</div></body></html>
